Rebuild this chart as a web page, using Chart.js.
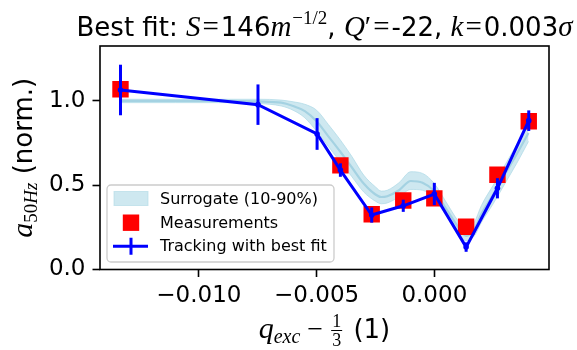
<!DOCTYPE html>
<html><head><meta charset="utf-8">
<script src="https://cdn.jsdelivr.net/npm/chart.js@4/dist/chart.umd.min.js"></script>
<style>html,body{margin:0;padding:0;background:#fff}#wrap{width:577px;height:350px}</style>
</head><body><div id="wrap"><canvas id="c" width="577" height="350"></canvas></div>
<script>
// ---- data ----
const xTicks = [-0.010, -0.005, 0.000];
const yTicks = [0.0, 0.5, 1.0];

const xMeas = [-0.01333, -0.00399, -0.00266, -0.00132, 0.0000, 0.00135, 0.00268, 0.00401];
const yMeas = [1.069, 0.618, 0.328, 0.409, 0.422, 0.254, 0.562, 0.880];

const xTrack = [-0.01333, -0.00749, -0.00498, -0.00399, -0.00266, -0.00132, 0.0000, 0.00135, 0.00268, 0.00401];
const yTrack = [1.065, 0.978, 0.804, 0.590, 0.323, 0.378, 0.448, 0.133, 0.482, 0.883];
const eTrack = [0.150, 0.120, 0.094, 0.040, 0.045, 0.036, 0.066, 0.028, 0.060, 0.061];

const xBand = [-0.0133, -0.011, -0.009, -0.0075, -0.0065, -0.006, -0.0055, -0.005, -0.0045, -0.004, -0.0035, -0.003, -0.0025, -0.00225, -0.002, -0.0015, -0.001, -0.0005, 0.0, 0.0005, 0.001, 0.00135, 0.0017, 0.002, 0.0025, 0.003, 0.0035, 0.004];
const bandLo  = [0.99, 0.99, 0.99, 0.985, 0.97, 0.945, 0.90, 0.82, 0.73, 0.64, 0.55, 0.46, 0.405, 0.39, 0.395, 0.43, 0.475, 0.47, 0.42, 0.32, 0.22, 0.17, 0.20, 0.28, 0.39, 0.51, 0.63, 0.76];
const bandMid = [1.00, 1.00, 1.00, 0.997, 0.99, 0.97, 0.94, 0.88, 0.79, 0.70, 0.605, 0.51, 0.445, 0.43, 0.435, 0.47, 0.525, 0.515, 0.465, 0.36, 0.255, 0.20, 0.24, 0.33, 0.445, 0.565, 0.685, 0.81];
const bandHi  = [1.01, 1.01, 1.01, 1.01, 1.005, 0.995, 0.98, 0.945, 0.86, 0.77, 0.67, 0.56, 0.49, 0.465, 0.47, 0.515, 0.58, 0.57, 0.51, 0.40, 0.29, 0.235, 0.28, 0.38, 0.50, 0.62, 0.74, 0.86];

const labels = ['Surrogate (10-90%)', 'Measurements', 'Tracking with best fit'];

// ---- helpers ----
const SANS = 'DejaVu Sans';
const SERIF = 'Liberation Serif';
const pts = (xs, ys) => xs.map((x, i) => ({x: x, y: ys[i]}));

function drawRuns(ctx, runs, cx, baseY) {
  let total = 0;
  runs.forEach(r => { ctx.font = r.f; r.w = ctx.measureText(r.t).width + (r.pl || 0) + (r.pr || 0); total += r.w; });
  let x = cx - total / 2;
  ctx.textBaseline = 'alphabetic';
  ctx.textAlign = 'left';
  runs.forEach(r => {
    ctx.font = r.f;
    ctx.fillText(r.t, x + (r.pl || 0), baseY + (r.dy || 0));
    x += r.w;
  });
}

const decor = {
  id: 'decor',
  afterDatasetsDraw(chart) {
    const ctx = chart.ctx, xs = chart.scales.x, ys = chart.scales.y;
    ctx.save();
    ctx.strokeStyle = '#0000ff';
    ctx.lineWidth = 3;
    for (let i = 0; i < xTrack.length; i++) {
      const px = xs.getPixelForValue(xTrack[i]);
      ctx.beginPath();
      ctx.moveTo(px, ys.getPixelForValue(yTrack[i] - eTrack[i]));
      ctx.lineTo(px, ys.getPixelForValue(yTrack[i] + eTrack[i]));
      ctx.stroke();
    }
    ctx.restore();
  },
  afterDraw(chart) {
    const ctx = chart.ctx, a = chart.chartArea;
    ctx.save();
    ctx.strokeStyle = '#000';
    ctx.lineWidth = 1.6;
    ctx.strokeRect(a.left, a.top, a.right - a.left, a.bottom - a.top);
    ctx.fillStyle = '#000';
    // title
    const T = 26, M = 29;
    drawRuns(ctx, [
      {t: 'Best fit: ', f: `${T}px "${SANS}"`},
      {t: 'S', f: `italic ${M}px "${SERIF}"`},
      {t: '=', f: `${M}px "${SERIF}"`, pl: 2, pr: 2},
      {t: '146', f: `${T}px "${SANS}"`},
      {t: 'm', f: `italic ${M}px "${SERIF}"`},
      {t: '\u22121/2', f: `19px "${SERIF}"`, dy: -12, pl: 1},
      {t: ', ', f: `${T}px "${SANS}"`},
      {t: 'Q', f: `italic ${M}px "${SERIF}"`},
      {t: '\u2032', f: `${M}px "${SERIF}"`},
      {t: '=', f: `${M}px "${SERIF}"`, pl: 2, pr: 2},
      {t: '-22, ', f: `${T}px "${SANS}"`},
      {t: 'k', f: `italic ${M}px "${SERIF}"`},
      {t: '=', f: `${M}px "${SERIF}"`, pl: 2, pr: 2},
      {t: '0.003', f: `${T}px "${SANS}"`},
      {t: '\u03c3', f: `italic ${M}px "${SERIF}"`}
    ], (a.left + a.right) / 2, 36);
    // x label
    const L = 26;
    const cx = (a.left + a.right) / 2;
    const xl = [
      {t: 'q', f: `italic ${L + 4}px "${SERIF}"`},
      {t: 'exc', f: `italic ${L - 6}px "${SERIF}"`, dy: 5},
      {t: ' \u2212 ', f: `${L + 2}px "${SERIF}"`},
      {t: '1', f: `${L - 8}px "${SERIF}"`, frac: true},
      {t: ' (1)', f: `${L}px "${SANS}"`, pl: 2}
    ];
    let tot = 0;
    xl.forEach(r => { ctx.font = r.f; r.w = ctx.measureText(r.t).width + (r.pl || 0) + (r.frac ? 4 : 0); tot += r.w; });
    let x = cx - tot / 2; const by = 338;
    xl.forEach(r => {
      ctx.font = r.f;
      if (r.frac) {
        ctx.textAlign = 'center';
        const mx = x + r.w / 2;
        ctx.fillText('1', mx, by - 11);
        ctx.fillText('3', mx, by + 8);
        ctx.fillRect(x + 1, by - 8, r.w - 2, 1);
        ctx.textAlign = 'left';
      } else {
        ctx.fillText(r.t, x + (r.pl || 0), by + (r.dy || 0));
      }
      x += r.w;
    });
    // y label (rotated)
    ctx.save();
    ctx.translate(32, (a.top + a.bottom) / 2);
    ctx.rotate(-Math.PI / 2);
    drawRuns(ctx, [
      {t: 'a', f: `italic ${L + 4}px "${SERIF}"`},
      {t: '50', f: `${L - 7}px "${SERIF}"`, dy: 5},
      {t: 'Hz', f: `italic ${L - 7}px "${SERIF}"`, dy: 5},
      {t: ' (norm.)', f: `${L}px "${SANS}"`}
    ], 0, 0);
    ctx.restore();
    // legend
    const lx = 107, ly = 185, lw = 227, lh = 77, rad = 4;
    ctx.beginPath();
    ctx.roundRect(lx, ly, lw, lh, rad);
    ctx.fillStyle = 'rgba(255,255,255,0.8)';
    ctx.fill();
    ctx.strokeStyle = 'rgb(204,204,204)';
    ctx.lineWidth = 1.3;
    ctx.stroke();
    const rows = [198.5, 222.7, 246.2];
    ctx.fillStyle = 'rgba(173,216,230,0.6)';
    ctx.fillRect(114, rows[0] - 7, 34, 14);
    ctx.strokeStyle = 'rgba(173,216,230,0.6)';
    ctx.lineWidth = 1;
    ctx.strokeRect(114, rows[0] - 7, 34, 14);
    ctx.fillStyle = '#ff0000';
    ctx.fillRect(131 - 8.2, rows[1] - 8.2, 16.4, 16.4);
    ctx.strokeStyle = '#0000ff';
    ctx.lineWidth = 3;
    ctx.beginPath();
    ctx.moveTo(113, rows[2]); ctx.lineTo(148, rows[2]);
    ctx.moveTo(131, rows[2] - 8.5); ctx.lineTo(131, rows[2] + 8.5);
    ctx.stroke();
    ctx.fillStyle = '#000';
    ctx.font = `16px "${SANS}"`;
    ctx.textBaseline = 'middle';
    ctx.textAlign = 'left';
    labels.forEach((t, i) => ctx.fillText(t, 160, rows[i] + 1));
    ctx.restore();
  }
};

new Chart(document.getElementById('c'), {
  type: 'scatter',
  data: {
    datasets: [
      {label: labels[2], data: pts(xTrack, yTrack), showLine: true, borderColor: '#0000ff', backgroundColor: '#0000ff',
       borderWidth: 3, pointRadius: 2.8, pointBorderWidth: 0, order: 0},
      {label: labels[1], data: pts(xMeas, yMeas), showLine: false, pointStyle: 'rect', pointRadius: 11.6,
       backgroundColor: '#ff0000', borderWidth: 0, pointBorderWidth: 0, order: 1},
      {label: labels[0], data: pts(xBand, bandHi), showLine: true, fill: '+1', backgroundColor: 'rgba(173,216,230,0.6)',
       borderColor: 'rgba(173,216,230,0.7)', borderWidth: 1, pointRadius: 0, cubicInterpolationMode: 'monotone', order: 3},
      {label: '_lo', data: pts(xBand, bandLo), showLine: true, fill: false,
       borderColor: 'rgba(173,216,230,0.7)', borderWidth: 1, pointRadius: 0, cubicInterpolationMode: 'monotone', order: 3},
      {label: '_mid', data: pts(xBand, bandMid), showLine: true, fill: false,
       borderColor: 'rgba(160,207,224,0.9)', borderWidth: 2.2, pointRadius: 0, cubicInterpolationMode: 'monotone', order: 2}
    ]
  },
  options: {
    responsive: false,
    animation: false,
    events: [],
    layout: {padding: {left: 0, right: 28, top: 46, bottom: 0}},
    plugins: {legend: {display: false}, title: {display: false}, tooltip: {enabled: false}},
    scales: {
      x: {
        type: 'linear', min: -0.0142, max: 0.00487,
        afterBuildTicks: s => { s.ticks = xTicks.map(v => ({value: v})); },
        afterFit: s => { s.height = 80.5; },
        ticks: {color: '#000', font: {family: SANS, size: 23}, padding: 5,
          callback: v => (v < 0 ? '\u2212' : '') + Math.abs(v).toFixed(3)},
        grid: {drawOnChartArea: false, tickLength: 7.5, tickColor: '#000', tickWidth: 1.6},
        border: {display: false}
      },
      y: {
        type: 'linear', min: 0, max: 1.326,
        afterBuildTicks: s => { s.ticks = yTicks.map(v => ({value: v})); },
        afterFit: s => { s.width = 100; },
        ticks: {color: '#000', font: {family: SANS, size: 23}, padding: 7, callback: v => v.toFixed(1)},
        grid: {drawOnChartArea: false, tickLength: 7.5, tickColor: '#000', tickWidth: 1.6},
        border: {display: false}
      }
    }
  },
  plugins: [decor]
});
</script>
</body></html>
